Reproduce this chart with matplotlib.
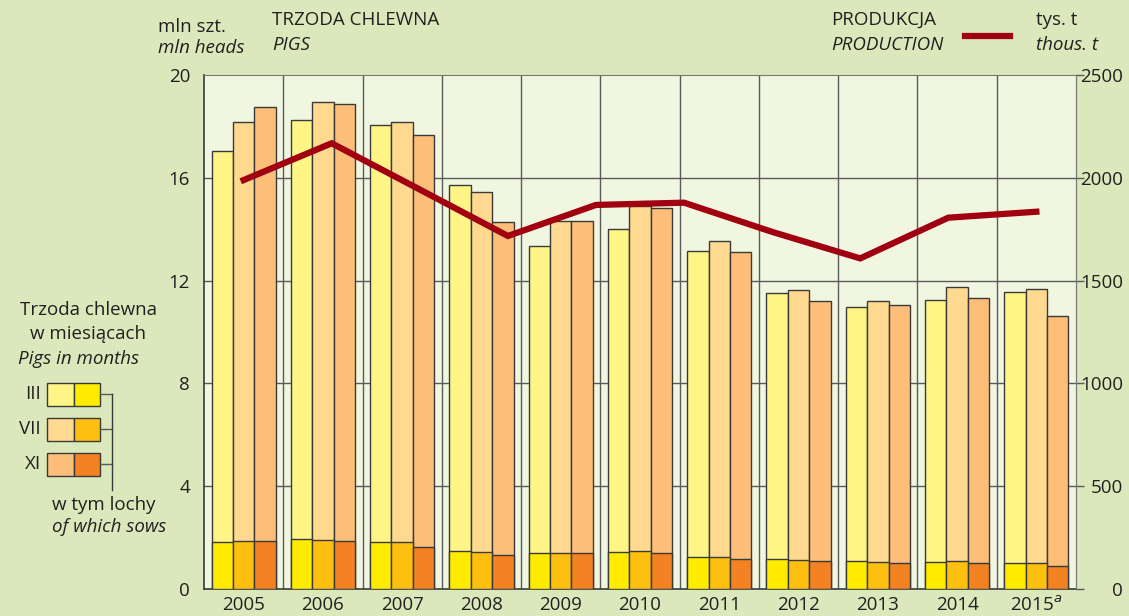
import numpy as np
import matplotlib
matplotlib.use('Agg')
import matplotlib.pyplot as plt
from matplotlib.patches import Rectangle
from matplotlib.lines import Line2D

years = ['2005', '2006', '2007', '2008', '2009', '2010', '2011', '2012', '2013', '2014', '2015']

# pigs, mln heads, by survey month
pigs_iii = [17.04, 18.25, 18.05, 15.72, 13.35, 14.00, 13.15, 11.52, 10.97, 11.25, 11.56]
pigs_vii = [18.17, 18.95, 18.17, 15.45, 14.32, 14.90, 13.54, 11.63, 11.20, 11.75, 11.67]
pigs_xi = [18.75, 18.87, 17.67, 14.28, 14.32, 14.82, 13.11, 11.20, 11.05, 11.32, 10.62]

# of which sows, mln heads
sows_iii = [1.82, 1.93, 1.82, 1.48, 1.41, 1.45, 1.23, 1.17, 1.08, 1.06, 1.02]
sows_vii = [1.87, 1.92, 1.82, 1.44, 1.42, 1.46, 1.23, 1.14, 1.06, 1.08, 1.02]
sows_xi = [1.87, 1.86, 1.65, 1.32, 1.42, 1.39, 1.18, 1.08, 1.02, 1.02, 0.88]

# production, thous. t
production = [1989, 2168, 1943, 1717, 1868, 1879, 1737, 1608, 1806, 1835]

BG = '#dbe8bb'
PANEL = '#f1f6e0'
LIGHT = ['#fff587', '#ffd98f', '#fcbe78']
DARK = ['#ffeb00', '#fdc010', '#f28222']
LINE = '#a0000f'
EDGE = '#3a3a3a'
GRID = '#5a5a5a'
TXT = '#231f20'
FS = 13.5

plt.rcParams['font.family'] = ['Open Sans', 'DejaVu Sans']
plt.rcParams['font.size'] = FS

fig = plt.figure(figsize=(11.29, 6.16), dpi=100, facecolor=BG)
ax = fig.add_axes([204 / 1129, 1 - 589 / 616, 872 / 1129, 514 / 616])
ax.set_facecolor(PANEL)

x = np.arange(len(years))
w = 0.27
totals = [pigs_iii, pigs_vii, pigs_xi]
sows = [sows_iii, sows_vii, sows_xi]
for k in range(3):
    pos = x + (k - 1) * w
    ax.bar(pos, totals[k], width=w, color=LIGHT[k], edgecolor=EDGE, linewidth=1, zorder=3)
    ax.bar(pos, sows[k], width=w, color=DARK[k], edgecolor=EDGE, linewidth=1, zorder=4)

ax.set_xlim(-0.5, len(years) - 0.5)
ax.set_ylim(0, 20)
ax.set_yticks([0, 4, 8, 12, 16, 20])
ax.set_xticks(x)
ax.set_xticklabels(years[:-1] + ['2015$^{\\mathit{a}}$'], color=TXT, fontsize=FS)
ax.tick_params(axis='x', length=0, pad=5)
ax.tick_params(axis='y', length=0, pad=10, labelcolor=TXT, labelsize=FS)
for yv in [4, 8, 12, 16]:
    ax.axhline(yv, color=GRID, lw=1, zorder=1)
for xv in x[:-1] + 0.5:
    ax.axvline(xv, color=GRID, lw=1, zorder=1)
for s in ['top', 'right']:
    ax.spines[s].set_color('#777777')
for s in ['left', 'bottom']:
    ax.spines[s].set_color(EDGE)
    ax.spines[s].set_linewidth(1.2)

ax2 = ax.twinx()
ax2.set_ylim(0, 2500)
ax2.set_yticks([0, 500, 1000, 1500, 2000, 2500])
ax2.tick_params(axis='y', length=6, width=1, color=GRID, labelcolor=TXT, labelsize=FS, pad=28)
for lab in ax2.get_yticklabels():
    lab.set_horizontalalignment('right')
ax2.spines['right'].set_color('#777777')
ax2.spines['top'].set_visible(False)
ax2.spines['left'].set_visible(False)
ax2.spines['bottom'].set_visible(False)
lx = np.linspace(0, len(years) - 1, len(production))
ax2.plot(lx, production, color=LINE, lw=4.5, solid_joinstyle='miter', zorder=5)

# header texts
fig.text(158 / 1129, 1 - 27 / 616, 'mln szt.', color=TXT, va='center')
fig.text(158 / 1129, 1 - 48 / 616, 'mln heads', color=TXT, va='center', style='italic')
fig.text(272 / 1129, 1 - 20 / 616, 'TRZODA CHLEWNA', color=TXT, va='center')
fig.text(272 / 1129, 1 - 45 / 616, 'PIGS', color=TXT, va='center', style='italic')
fig.text(831 / 1129, 1 - 20 / 616, 'PRODUKCJA', color=TXT, va='center')
fig.text(831 / 1129, 1 - 45 / 616, 'PRODUCTION', color=TXT, va='center', style='italic')
fig.text(1036 / 1129, 1 - 20 / 616, 'tys. t', color=TXT, va='center')
fig.text(1036 / 1129, 1 - 45 / 616, 'thous. t', color=TXT, va='center', style='italic')
fig.add_artist(Line2D([965 / 1129, 1010 / 1129], [1 - 36 / 616] * 2, color=LINE, lw=4.5,
                      transform=fig.transFigure))

# left legend
fig.text(88 / 1129, 1 - 310 / 616, 'Trzoda chlewna', color=TXT, ha='center', va='center')
fig.text(88 / 1129, 1 - 334 / 616, 'w miesiącach', color=TXT, ha='center', va='center')
fig.text(18 / 1129, 1 - 359 / 616, 'Pigs in months', color=TXT, ha='left', va='center', style='italic')
months = ['III', 'VII', 'XI']
box_tops = [383, 418, 453]
for k, m in enumerate(months):
    yt = box_tops[k]
    for j, col in enumerate([LIGHT[k], DARK[k]]):
        fig.add_artist(Rectangle(((47 + j * 26.5) / 1129, 1 - (yt + 22.5) / 616), 26.5 / 1129, 22.5 / 616,
                                 facecolor=col, edgecolor=EDGE, lw=1, transform=fig.transFigure))
    fig.text(41 / 1129, 1 - (yt + 11) / 616, m, color=TXT, ha='right', va='center')
    fig.add_artist(Line2D([100 / 1129, 112 / 1129], [1 - (yt + 11) / 616] * 2, color=GRID, lw=1,
                          transform=fig.transFigure))
fig.add_artist(Line2D([112 / 1129] * 2, [1 - 394 / 616, 1 - 490 / 616], color=EDGE, lw=1,
                      transform=fig.transFigure))
fig.text(52 / 1129, 1 - 505 / 616, 'w tym lochy', color=TXT, va='center')
fig.text(52 / 1129, 1 - 527 / 616, 'of which sows', color=TXT, va='center', style='italic')

fig.savefig('out.png', dpi=100, facecolor=BG)
